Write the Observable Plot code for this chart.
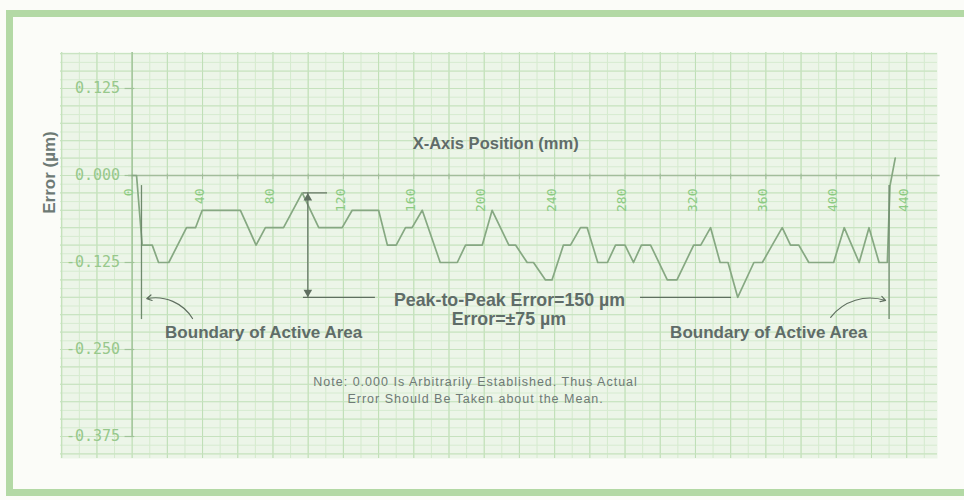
<!DOCTYPE html>
<html><head><meta charset="utf-8">
<script src="https://cdn.jsdelivr.net/npm/d3@7"></script>
<script src="https://cdn.jsdelivr.net/npm/@observablehq/plot@0.6"></script>
<style>
body{margin:0;background:#fbfcf8;}
#wrap{position:relative;width:964px;height:500px;overflow:hidden;background:#fbfcf8;}
#frame{position:absolute;left:6px;top:10px;width:980px;height:472px;border:7px solid #b3d9a5;border-right:none;}
#chart{position:absolute;left:0;top:0;}
</style></head><body>
<div id="wrap"><div id="frame"></div><div id="chart"></div></div>
<script>
// ---- data ----
const traceMm = [0,2.5,5.7,11.4,15,20.8,30.9,36,39.8,61.5,70.4,75.7,86,96.6,106,119.3,125,140,145,150,155.3,159,164.8,175,184.7,189.4,198.9,204.5,214,217.8,224.4,228,234.8,238.5,245,249,254.7,258.5,264.5,270,274.6,280,284.8,289.3,294.5,304,309.5,319,323,328.6,334,338.5,344,353.2,358,363.6,369.3,374,378.7,384.4,398.5,404.5,413,418.6,424.3,429,430.5,433.5];
const traceErr = [0,0,-0.1,-0.1,-0.125,-0.125,-0.075,-0.075,-0.05,-0.05,-0.1,-0.075,-0.075,-0.025,-0.075,-0.075,-0.05,-0.05,-0.1,-0.1,-0.075,-0.075,-0.05,-0.125,-0.125,-0.1,-0.1,-0.05,-0.1,-0.1,-0.125,-0.125,-0.15,-0.15,-0.1,-0.1,-0.075,-0.075,-0.125,-0.125,-0.1,-0.1,-0.125,-0.1,-0.1,-0.15,-0.15,-0.1,-0.1,-0.075,-0.125,-0.125,-0.175,-0.125,-0.125,-0.1,-0.075,-0.1,-0.1,-0.125,-0.125,-0.075,-0.125,-0.075,-0.125,-0.125,-0.015,0.025];
const yTickVals = [0.125, 0, -0.125, -0.25, -0.375];
const yTickLabels = ["0.125", "0.000", "-0.125", "-0.250", "-0.375"];
const xLabelVals = [0,40,80,120,160,200,240,280,320,360,400,440];
const xLabelText = ["0","40","80","120","160","200","240","280","320","360","400","440"];
const xTickVals = [0,20,40,60,80,100,120,140,160,180,200,220,240,260,280,300,320,340,360,380,400,420,440];
// annotation values (data units)
const boundaryMm = [5.3, 430];
const boundarySpan = [-0.0145, -0.207];
const peakMm = 99.8, peakTop = -0.025, peakBottom = -0.175;
const leaderLines = [
  {x1: 97.3, x2: 111, y: -0.025},
  {x1: 97.3, x2: 138.2, y: -0.175},
  {x1: 288.8, x2: 340.5, y: -0.175}
];
const leftArrow = [{x1: 34.3, y1: -0.2055, x2: 8.3, y2: -0.177}];
const rightArrow = [{x1: 396.8, y1: -0.2037, x2: 428, y2: -0.1796}];
const labels = [
  {x: 206.5, y: 0.046, text: "X-Axis Position (mm)", size: 16.5},
  {x: 214.4, y: -0.1796, text: "Peak-to-Peak Error=150 \u00b5m", size: 17.8},
  {x: 214.0, y: -0.207, text: "Error=\u00b175 \u00b5m", size: 17.8},
  {x: 74.7, y: -0.2256, text: "Boundary of Active Area", size: 17},
  {x: 361.6, y: -0.2256, text: "Boundary of Active Area", size: 17}
];
const noteLines = ["Note: 0.000 Is Arbitrarily Established. Thus Actual", "Error Should Be Taken about the Mean."];
const noteY = [-0.2974, -0.3204];
const noteX = 195.1;
const yTitle = "Error (\u00b5m)";

const xDomain = [-40.7, 457.5];
const yDomain = [-0.4066, 0.1767];

const trace = traceMm.map((m, i) => ({x: m, y: traceErr[i]}));
const gridMinorX = d3.range(-40, 458, 10);
const gridMajorX = d3.range(-40, 458, 20);
const gridMinorY = d3.range(-0.4, 0.18, 0.0125);
const gridMajorY = d3.range(-0.4, 0.18, 0.025);

const textColor = "#5f6c68";
const ink = "#5f6f60";
const font = "Liberation Sans, Arial, sans-serif";
const mono = "DejaVu Sans Mono, monospace";

const chart = Plot.plot({
  width: 964, height: 500,
  marginLeft: 60, marginRight: 27, marginTop: 52, marginBottom: 42,
  x: {domain: xDomain, axis: null},
  y: {domain: yDomain, axis: null},
  style: {background: "transparent", fontFamily: font, overflow: "visible"},
  marks: [
    Plot.frame({fill: "#ecf5e8", stroke: "none"}),
    Plot.ruleX(gridMinorX, {stroke: "#d4eacd", strokeWidth: 1}),
    Plot.ruleY(gridMinorY, {stroke: "#d6ebd0", strokeWidth: 1}),
    Plot.ruleX(gridMajorX, {stroke: "#bfdfb6", strokeWidth: 1}),
    Plot.ruleY(gridMajorY, {stroke: "#c6e2be", strokeWidth: 1}),
    // axes
    Plot.ruleX([0], {y1: yDomain[1], y2: -0.375, stroke: "#a0c398", strokeWidth: 1.4}),
    Plot.ruleY([0], {x1: -2, x2: 459, stroke: "#a2bd9b", strokeWidth: 1.6}),
    Plot.ruleY(yTickVals, {x1: -4, x2: 1.5, stroke: "#a0c398", strokeWidth: 1.2}),
    Plot.ruleX(xTickVals, {y1: 0.002, y2: -0.006, stroke: "#a2bd9b", strokeWidth: 1}),
    Plot.text(yTickVals, {x: () => 0, y: d => d, text: (d, i) => yTickLabels[i], dx: -12, textAnchor: "end",
      fill: "#97c88b", fontSize: 15, fontFamily: mono}),
    Plot.text(xLabelVals, {x: d => d, y: () => 0, text: (d, i) => xLabelText[i], rotate: -90, textAnchor: "end",
      dx: -3, dy: 13, fill: "#8ccb82", fontSize: 13, fontFamily: mono}),
    // trace
    Plot.line(trace, {x: "x", y: "y", stroke: "#86a882", strokeWidth: 1.7, strokeLinejoin: "round"}),
    // boundaries
    Plot.ruleX(boundaryMm, {y1: boundarySpan[0], y2: boundarySpan[1], stroke: "#6f8a6d", strokeWidth: 1.3}),
    // peak-to-peak arrow
    Plot.ruleX([peakMm], {y1: peakTop, y2: peakBottom, stroke: ink, strokeWidth: 1.2}),
    Plot.dot([peakTop], {x: () => peakMm, y: d => d, symbol: "triangle", r: 3.2, fill: ink, stroke: "none", dy: 5}),
    Plot.dot([peakBottom], {x: () => peakMm, y: d => d, symbol: "triangle", rotate: 180, r: 3.2, fill: ink, stroke: "none", dy: -5}),
    Plot.ruleY(leaderLines, {x1: "x1", x2: "x2", y: "y", stroke: ink, strokeWidth: 1.2}),
    Plot.arrow(leftArrow, {x1: "x1", y1: "y1", x2: "x2", y2: "y2", bend: -35, stroke: ink, strokeWidth: 1.2, headLength: 7}),
    Plot.arrow(rightArrow, {x1: "x1", y1: "y1", x2: "x2", y2: "y2", bend: 35, stroke: ink, strokeWidth: 1.2, headLength: 7}),
    // texts
    Plot.text(labels, {x: "x", y: "y", text: "text", fontSize: d => d.size, fontWeight: "bold", fill: textColor}),
    Plot.text(noteLines, {x: () => noteX, y: (d, i) => noteY[i], text: d => d, fontSize: 12.5, fill: "#6f7a76"}),
    Plot.text([yTitle], {x: () => -47, y: () => 0.0043, text: d => d, rotate: -90, fontSize: 17, fontWeight: "bold", fill: "#6d7a75"})
  ]
});
d3.select(chart).selectAll("text").filter(function() { return noteLines.includes(this.textContent); })
  .style("letter-spacing", "1px");
d3.select(chart).selectAll("text").filter(function() { return xLabelText.includes(this.textContent) && this.getAttribute("font-family") === null; });
document.getElementById("chart").appendChild(chart);
</script>
</body></html>
